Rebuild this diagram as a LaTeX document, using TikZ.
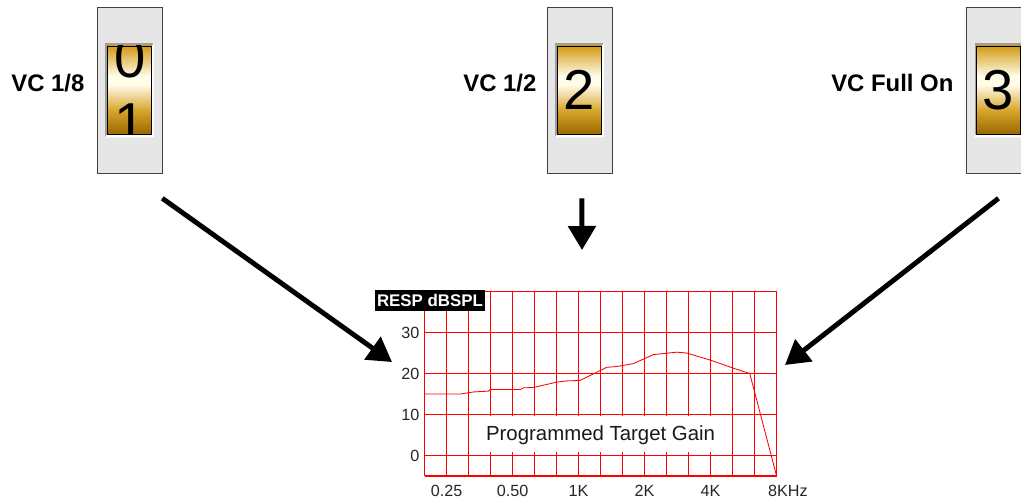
\documentclass[tikz,border=0pt]{standalone}
\usepackage{fontspec}
\setmainfont{Liberation Sans}
\usetikzlibrary{arrows.meta,positioning}

\definecolor{dialgray}{HTML}{E6E6E6}
\definecolor{golddark}{HTML}{9A6800}
\definecolor{goldmid}{HTML}{D6A32A}
\definecolor{goldlight}{HTML}{FFFCE8}
\definecolor{goldtop}{HTML}{D39A16}

\pgfdeclareverticalshading{goldroll}{100bp}{color(0bp)=(golddark); color(25bp)=(golddark);
  color(38bp)=(goldmid); color(53bp)=(goldlight); color(58bp)=(goldlight); color(75bp)=(goldtop); color(100bp)=(goldtop)}

\tikzset{
  dial/.style={draw=black!75, fill=dialgray, minimum width=1.625cm, minimum height=4.15cm, inner sep=0pt},
  bevel/.style={fill=black!38, minimum width=1.2cm, minimum height=2.35cm, inner sep=0pt},
  window/.style={draw=black, line width=0.4pt, shade, shading=goldroll, minimum width=1.1cm, minimum height=2.2cm, inner sep=0pt},
  digit/.style={font=\fontsize{40}{40}\selectfont, inner sep=0pt},
  vclabel/.style={font=\fontsize{17}{17}\selectfont\bfseries, inner sep=0pt},
  bigarrow/.style={line width=3.5pt, -{Triangle[length=0.6cm,width=0.68cm]}},
  grid line/.style={red, line width=0.9pt},
  axis label/.style={font=\fontsize{11.5}{11.5}\selectfont, text=black!85, inner sep=0pt}
}

\begin{document}
\begin{tikzpicture}[x=0.025cm, y=-0.025cm]
  \useasboundingbox (0,0) rectangle (1021,500);

  % the three volume wheels
  \foreach \n/\x in {1/129.5, 2/579.5, 3/998.5}{
    \node[dial] (d\n) at (\x,90) {};
    \node[bevel] (b\n) at (d\n) {};
    \fill[white] (b\n.south west) -- (b\n.south east) -- (b\n.north east) -- (b\n.center) -- cycle;
    \node[window] (w\n) at (d\n) {};
  }
  \begin{scope}
    \clip (w1.south west) rectangle (w1.north east);
    \node[digit] (n0) at (130,58) {0};
    \node[digit] (n1) at (130,123) {1};
  \end{scope}
  \node[digit] (n2) at (w2) {2};
  \node[digit] (n3) at (w3) {3};

  \node[vclabel, left=0.3cm of d1, yshift=0.175cm] (l1) {VC 1/8};
  \node[vclabel, left=0.25cm of d2, yshift=0.175cm] (l2) {VC 1/2};
  \node[vclabel, left=0.3cm of d3, yshift=0.175cm] (l3) {VC Full On};

  % response chart
  \begin{scope}[shift={(424.5,455.5)}, x=0.55cm, y=0.1025cm]
    \foreach \i in {0,...,16}
      \draw[grid line] (\i,-5) -- (\i,40);
    \foreach \v in {-5,0,10,20,30,40}
      \draw[grid line] (0,\v) -- (16,\v);
    \fill[white] (2.06,0.8) rectangle (13.94,9.6);
    \node[font=\fontsize{14.5}{14.5}\selectfont, text=black!90] (gain) at (8,5) {Programmed Target Gain};
    \draw[red, line width=0.6pt] plot coordinates {(0,15) (1.63,15) (2.23,15.5) (2.91,15.7) (2.99,16.1)
      (4.35,16.1) (4.5,16.5) (4.96,16.6) (6.02,17.9) (6.47,18.2) (7.07,18.3) (8.28,21.5) (8.74,21.7)
      (9.49,22.4) (10.4,24.6) (11.46,25.2) (11.91,25) (12.97,23.3) (14.03,21.3) (14.78,20) (16,-5)};
    \foreach \v in {0,10,20,30}
      \node[axis label, anchor=east] (y\v) at (-0.22,\v) {\v};
    \foreach \i/\t in {1/0.25, 4/0.50, 7/1K, 10/2K, 13/4K}
      \node[axis label] (f\i) at (\i,-8.6) {\t};
    \node[axis label, anchor=west] (f16) at (15.6,-8.6) {8KHz};
    \node[fill=black, text=white, font=\fontsize{12}{12}\selectfont\bfseries, inner sep=0pt,
      minimum width=2.75cm, minimum height=0.525cm] (resp) at (0.25,37.7) {RESP dBSPL};
  \end{scope}

  % arrows into the chart
  \coordinate (s1) at ([yshift=-0.625cm]d1.south east);
  \coordinate (s2) at ([yshift=-0.625cm,xshift=0.06cm]d2.south);
  \coordinate (s3) at ([yshift=-0.625cm]d3.south);
  \coordinate (t1) at (392,362);
  \coordinate (t2) at (582,250);
  \coordinate (t3) at (785,365);
  \draw[bigarrow] (s1) -- (t1);
  \draw[bigarrow] (s2) -- (t2);
  \draw[bigarrow] (s3) -- (t3);
\end{tikzpicture}
\end{document}
